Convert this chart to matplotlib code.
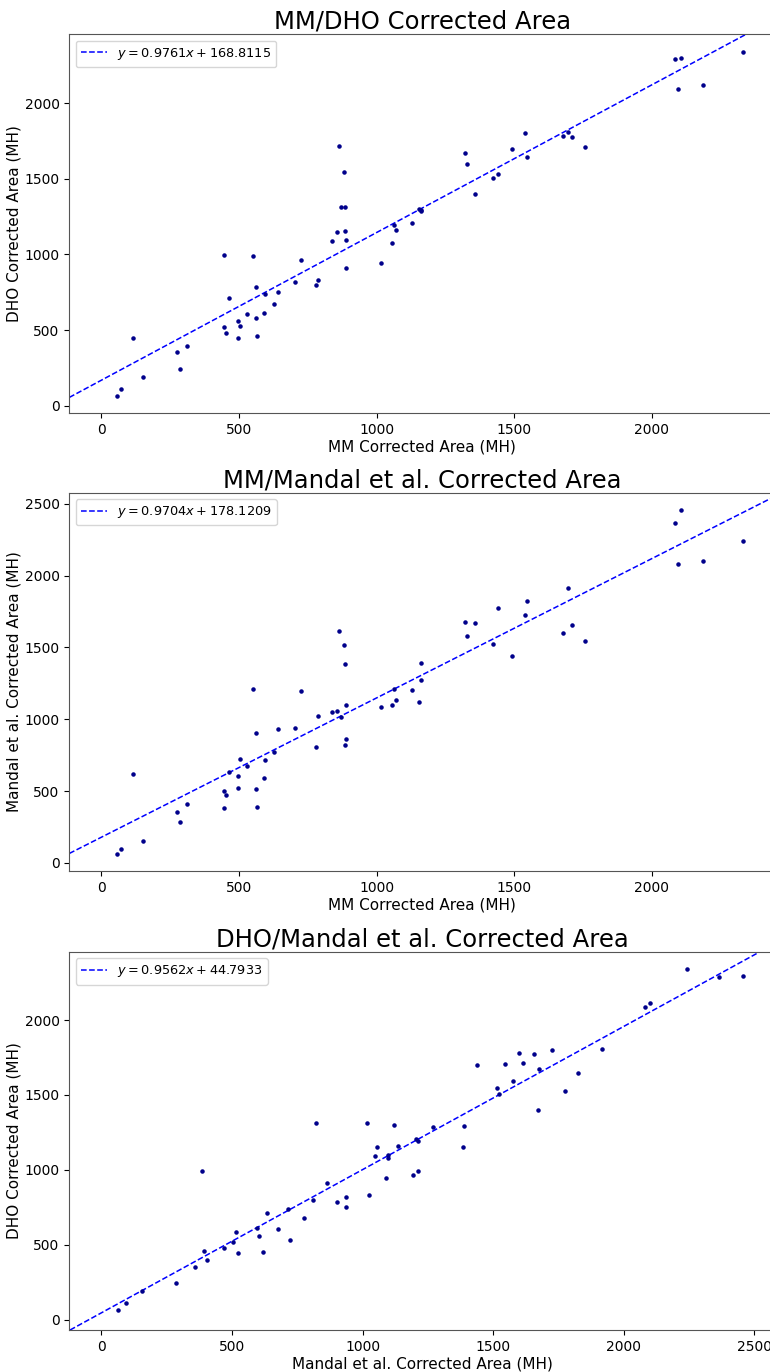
import matplotlib
matplotlib.use("Agg")
import matplotlib.pyplot as plt

# corrected areas (MH), one entry per event
mm = [56, 70, 116, 152, 274, 285, 312, 444, 445, 452, 463, 495, 495, 502, 530,
      551, 560, 561, 566, 589, 596, 628, 640, 705, 726, 781, 788, 837, 855, 865,
      871, 880, 885, 885, 890, 890, 1014, 1057, 1064, 1069, 1128, 1155, 1160, 1162,
      1320, 1329, 1358, 1424, 1441, 1493, 1540, 1547, 1678, 1695, 1708, 1758,
      2085, 2107, 2094, 2185, 2332]
dho = [66, 108, 449, 189, 354, 246, 396, 994, 519, 480, 713, 557, 447, 528, 603,
       992, 583, 783, 460, 612, 741, 675, 750, 816, 966, 796, 829, 1089, 1151, 1716,
       1314, 1547, 1155, 1314, 1096, 913, 944, 1076, 1193, 1160, 1206, 1298, 1294, 1285,
       1672, 1595, 1402, 1505, 1529, 1699, 1802, 1644, 1780, 1806, 1776, 1707,
       2290, 2295, 2090, 2117, 2341]
mandal = [63, 93, 619, 155, 357, 285, 406, 385, 503, 471, 635, 605, 524, 721, 677,
          1213, 517, 904, 392, 594, 714, 775, 935, 937, 1194, 809, 1023, 1048, 1055, 1614,
          1018, 1514, 1384, 821, 1099, 863, 1088, 1097, 1213, 1136, 1204, 1122, 1389, 1271,
          1677, 1577, 1672, 1524, 1776, 1438, 1725, 1825, 1600, 1916, 1656, 1547,
          2365, 2458, 2083, 2099, 2243]

# fitted lines as printed in the legends
slopes = [0.9761, 0.9704, 0.9562]
intercepts = [168.8115, 178.1209, 44.7933]

titles = ["MM/DHO Corrected Area", "MM/Mandal et al. Corrected Area",
          "DHO/Mandal et al. Corrected Area"]
xlabels = ["MM Corrected Area (MH)", "MM Corrected Area (MH)",
           "Mandal et al. Corrected Area (MH)"]
ylabels = ["DHO Corrected Area (MH)", "Mandal et al. Corrected Area (MH)",
           "DHO Corrected Area (MH)"]
xs = [mm, mm, mandal]
ys = [dho, mandal, dho]
xlims = [(-116.6, 2448.6), (-116.6, 2448.6), (-122.9, 2580.9)]
ylims = [(-47.8, 2454.8), (-56.8, 2577.8), (-70.0, 2456.0)]

fig = plt.figure(figsize=(7.70, 13.72), dpi=100)
boxes = [
    [0.0900, 0.6990, 0.9170, 0.2760],
    [0.0900, 0.3652, 0.9170, 0.2757],
    [0.0900, 0.0306, 0.9170, 0.2757],
]

for i in range(3):
    ax = fig.add_axes(boxes[i])
    ax.scatter(xs[i], ys[i], s=5, color="darkblue", zorder=3)
    ax.axline((0, intercepts[i]), slope=slopes[i], color="blue", linestyle="--",
              linewidth=1.1,
              label=rf"$y = {slopes[i]:.4f}x + {intercepts[i]:.4f}$")
    ax.set_xlim(xlims[i])
    ax.set_ylim(ylims[i])
    ax.set_title(titles[i], fontsize=17.5, pad=4)
    ax.set_xlabel(xlabels[i], fontsize=11, labelpad=2)
    ax.set_ylabel(ylabels[i], fontsize=11, labelpad=2)
    ax.tick_params(labelsize=10)
    for sp in ax.spines.values():
        sp.set_color("#555555")
    ax.legend(loc="upper left", fontsize=9.3)

fig.savefig("out.png", dpi=100)
